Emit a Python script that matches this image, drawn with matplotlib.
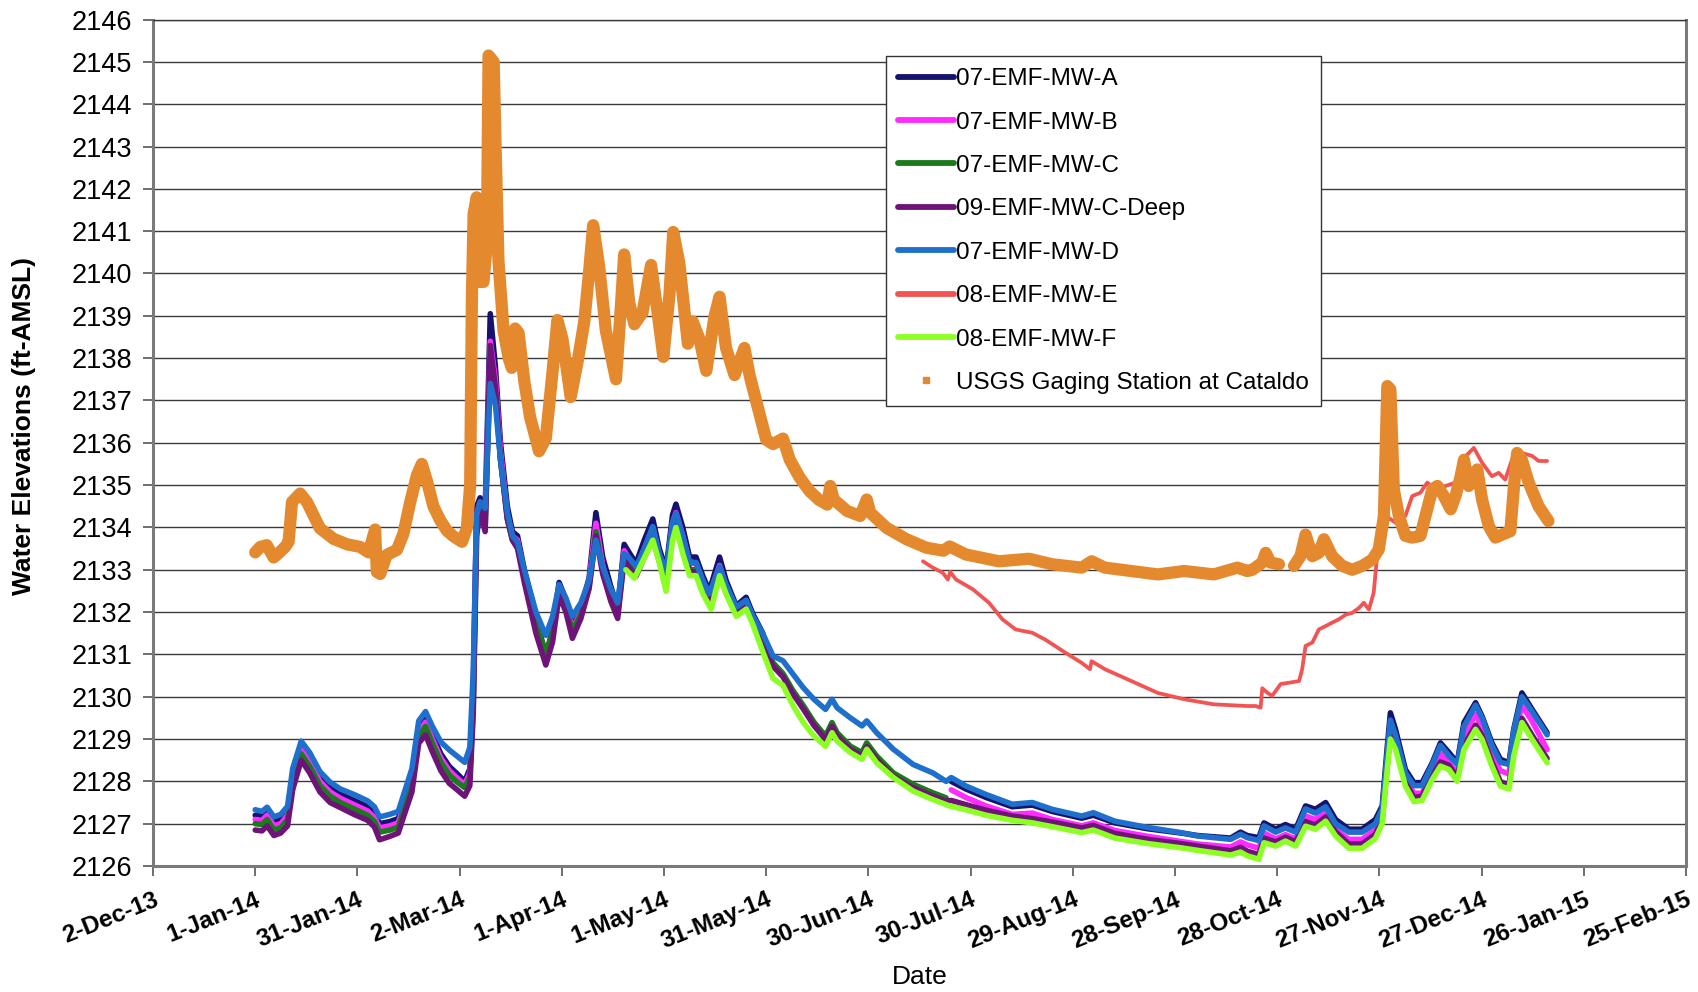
import matplotlib
matplotlib.use("Agg")
import matplotlib.pyplot as plt
import matplotlib.dates as mdates
import numpy as np
from datetime import datetime
from matplotlib.lines import Line2D

plt.rcParams['font.family'] = ['Liberation Sans', 'DejaVu Sans']

# ---------------- DATA (days counted from 1-Jan-14) ----------------
XTICK_LABELS = ["2-Dec-13", "1-Jan-14", "31-Jan-14", "2-Mar-14", "1-Apr-14", "1-May-14",
                "31-May-14", "30-Jun-14", "30-Jul-14", "29-Aug-14", "28-Sep-14", "28-Oct-14",
                "27-Nov-14", "27-Dec-14", "26-Jan-15", "25-Feb-15"]
Y_TICKS = list(range(2126, 2147))

SERIES_NAMES = ["07-EMF-MW-A", "07-EMF-MW-B", "07-EMF-MW-C", "09-EMF-MW-C-Deep",
                "07-EMF-MW-D", "08-EMF-MW-E", "08-EMF-MW-F", "USGS Gaging Station at Cataldo"]

EARLY_DAYS = [0, 2, 3.5, 5.5, 7.5, 9.5, 11, 13.5, 16, 19,
              22, 25, 29, 33, 35, 36.5, 39.5, 42, 43.5, 46,
              48, 50, 52, 54.5, 57, 59, 61.5, 63, 64, 65,
              66, 67.5, 69, 70.5, 72, 74, 75.5, 77, 79, 82.4,
              85.3, 87.3, 89.2, 91.2, 93.1, 95.6, 98, 100, 102, 104.4,
              106.4, 108.3, 109.8, 111.8, 114.2, 116.7, 118.6, 120.6, 122.5, 123.5,
              125.5, 127.5, 129.4, 131.4, 133.3, 136.3, 138.2, 141.2, 144.1, 146.1,
              149]
MID_DAYS = [152, 154.9, 157.8, 160.8, 164, 167.4, 169.3, 170.8, 174.7, 178.1,
            179.5, 182.4, 187.3, 193.1, 198.9, 202.8]
LATE_DAYS = [204.3, 208.6, 214.5, 222.2, 228.1, 233.9, 242.6, 246, 252.3, 262,
             271.7, 276.6, 286.3, 289.2, 291.2, 294.6, 296.1, 299.5, 302.4, 305.4,
             308.3, 311.2, 314.2, 317.1, 321, 324.9, 328.8, 330.8, 332.3, 333.2,
             334.7, 337.6, 340.1, 342.5, 345.5, 347.9, 350.4, 352.8, 354.8, 358.2,
             360.1, 363, 365.5, 368, 369.4, 371.8, 374.8, 379.2]

A_EARLY = [2127.20, 2127.18, 2127.30, 2127.05, 2127.10, 2127.30, 2128.15, 2128.85, 2128.55, 2128.10,
           2127.85, 2127.70, 2127.55, 2127.40, 2127.25, 2127.00, 2127.05, 2127.12, 2127.50, 2128.10,
           2129.25, 2129.50, 2129.10, 2128.65, 2128.35, 2128.20, 2128.00, 2128.30, 2130.20, 2134.50,
           2134.70, 2134.40, 2139.05, 2137.80, 2136.00, 2134.50, 2133.90, 2133.80, 2133.00, 2131.90,
           2130.95, 2131.60, 2132.70, 2132.30, 2131.70, 2132.10, 2132.80, 2134.35, 2133.30, 2132.60,
           2132.10, 2133.60, 2133.40, 2133.15, 2133.70, 2134.20, 2133.50, 2133.00, 2134.30, 2134.55,
           2134.00, 2133.30, 2133.30, 2132.85, 2132.50, 2133.30, 2132.75, 2132.15, 2132.35, 2131.95,
           2131.50]
B_EARLY = [2127.10, 2127.08, 2127.20, 2126.95, 2127.00, 2127.20, 2128.05, 2128.75, 2128.45, 2128.00,
           2127.75, 2127.60, 2127.45, 2127.30, 2127.15, 2126.90, 2126.95, 2127.02, 2127.40, 2128.00,
           2129.15, 2129.40, 2129.00, 2128.55, 2128.25, 2128.10, 2127.92, 2128.20, 2130.00, 2134.30,
           2134.60, 2134.20, 2138.40, 2137.50, 2135.80, 2134.30, 2133.80, 2133.70, 2132.90, 2131.80,
           2130.85, 2131.50, 2132.55, 2132.20, 2131.60, 2132.00, 2132.70, 2134.10, 2133.10, 2132.45,
           2132.00, 2133.45, 2133.25, 2133.00, 2133.50, 2134.00, 2133.35, 2132.85, 2134.10, 2134.35,
           2133.80, 2133.15, 2133.15, 2132.70, 2132.40, 2133.10, 2132.60, 2132.05, 2132.25, 2131.85,
           2131.40]
C_EARLY = [2127.00, 2126.98, 2127.10, 2126.85, 2126.90, 2127.10, 2127.95, 2128.65, 2128.35, 2127.90,
           2127.65, 2127.50, 2127.35, 2127.20, 2127.05, 2126.80, 2126.85, 2126.92, 2127.30, 2127.90,
           2129.05, 2129.30, 2128.90, 2128.45, 2128.15, 2128.00, 2127.85, 2128.10, 2129.80, 2134.00,
           2134.50, 2134.00, 2138.00, 2137.20, 2135.60, 2134.20, 2133.70, 2133.55, 2132.80, 2131.70,
           2131.06, 2131.50, 2132.45, 2132.10, 2131.55, 2131.95, 2132.60, 2133.90, 2133.00, 2132.35,
           2131.95, 2133.30, 2133.10, 2132.90, 2133.35, 2133.80, 2133.25, 2132.70, 2133.90, 2134.15,
           2133.60, 2133.00, 2133.00, 2132.60, 2132.30, 2133.00, 2132.50, 2132.00, 2132.20, 2131.80,
           2131.30]
CD_EARLY = [2126.85, 2126.83, 2126.95, 2126.72, 2126.78, 2126.95, 2127.80, 2128.50, 2128.20, 2127.75,
            2127.50, 2127.38, 2127.22, 2127.08, 2126.92, 2126.62, 2126.70, 2126.78, 2127.15, 2127.75,
            2128.90, 2129.10, 2128.70, 2128.25, 2127.95, 2127.82, 2127.65, 2127.90, 2129.60, 2133.80,
            2134.40, 2133.90, 2138.30, 2137.30, 2135.60, 2134.20, 2133.70, 2133.50, 2132.70, 2131.50,
            2130.75, 2131.30, 2132.40, 2132.00, 2131.38, 2131.85, 2132.55, 2133.80, 2132.90, 2132.25,
            2131.85, 2133.25, 2133.05, 2132.85, 2133.30, 2133.75, 2133.20, 2132.65, 2133.85, 2134.10,
            2133.55, 2132.95, 2132.95, 2132.55, 2132.25, 2132.95, 2132.45, 2131.95, 2132.15, 2131.75,
            2131.25]
D_EARLY = [2127.33, 2127.29, 2127.39, 2127.16, 2127.22, 2127.41, 2128.30, 2128.95, 2128.68, 2128.23,
           2127.98, 2127.82, 2127.69, 2127.54, 2127.40, 2127.16, 2127.22, 2127.29, 2127.67, 2128.30,
           2129.43, 2129.65, 2129.30, 2128.93, 2128.74, 2128.61, 2128.45, 2128.80, 2130.60, 2134.30,
           2134.60, 2134.45, 2137.40, 2136.90, 2135.60, 2134.36, 2133.80, 2133.65, 2133.00, 2132.00,
           2131.45, 2131.90, 2132.65, 2132.33, 2131.90, 2132.22, 2132.75, 2133.70, 2133.07, 2132.54,
           2132.22, 2133.38, 2133.28, 2133.07, 2133.49, 2134.02, 2133.38, 2132.96, 2134.12, 2134.33,
           2133.80, 2133.17, 2133.17, 2132.75, 2132.43, 2133.07, 2132.65, 2132.12, 2132.28, 2131.90,
           2131.49]

C_MID = [2130.80, 2130.55, 2130.15, 2129.80, 2129.40, 2129.07, 2129.39, 2129.15, 2128.83, 2128.68,
         2128.91, 2128.60, 2128.20, 2127.93, 2127.73, 2127.61]
CD_MID = [2130.72, 2130.47, 2130.07, 2129.72, 2129.32, 2128.99, 2129.30, 2129.07, 2128.75, 2128.60,
          2128.82, 2128.52, 2128.12, 2127.85, 2127.65, 2127.53]
D_MID = [2130.96, 2130.85, 2130.54, 2130.22, 2129.94, 2129.70, 2129.94, 2129.74, 2129.50, 2129.31,
         2129.43, 2129.15, 2128.76, 2128.40, 2128.20, 2128.00]

A_LATE = [2128.00, 2127.82, 2127.62, 2127.40, 2127.44, 2127.29, 2127.13, 2127.20, 2127.02, 2126.88,
          2126.78, 2126.72, 2126.66, 2126.80, 2126.72, 2126.67, 2127.02, 2126.87, 2126.98, 2126.87,
          2127.42, 2127.34, 2127.50, 2127.10, 2126.87, 2126.87, 2127.10, 2127.42, 2128.83, 2129.62,
          2129.23, 2128.28, 2127.97, 2127.97, 2128.44, 2128.91, 2128.68, 2128.44, 2129.39, 2129.86,
          2129.54, 2128.91, 2128.52, 2128.44, 2129.23, 2130.09, 2129.70, 2129.15]
B_LATE = [2127.80, 2127.62, 2127.42, 2127.22, 2127.25, 2127.10, 2126.95, 2127.02, 2126.84, 2126.70,
          2126.58, 2126.52, 2126.45, 2126.57, 2126.50, 2126.42, 2126.78, 2126.64, 2126.74, 2126.64,
          2127.18, 2127.10, 2127.26, 2126.86, 2126.63, 2126.63, 2126.86, 2127.18, 2128.55, 2129.35,
          2128.98, 2128.05, 2127.72, 2127.72, 2128.20, 2128.65, 2128.42, 2128.18, 2129.10, 2129.58,
          2129.28, 2128.65, 2128.25, 2128.18, 2128.98, 2129.80, 2129.42, 2128.75]
CD_LATE = [2127.55, 2127.45, 2127.32, 2127.18, 2127.12, 2127.04, 2126.90, 2126.96, 2126.77, 2126.63,
           2126.53, 2126.47, 2126.36, 2126.44, 2126.35, 2126.27, 2126.66, 2126.57, 2126.68, 2126.57,
           2127.05, 2126.97, 2127.16, 2126.81, 2126.52, 2126.52, 2126.75, 2127.10, 2128.40, 2129.10,
           2128.86, 2127.99, 2127.62, 2127.65, 2128.15, 2128.46, 2128.38, 2128.10, 2128.85, 2129.33,
           2129.09, 2128.46, 2127.99, 2127.92, 2128.70, 2129.49, 2129.09, 2128.54]
D_LATE = [2128.09, 2127.89, 2127.69, 2127.46, 2127.50, 2127.34, 2127.18, 2127.26, 2127.06, 2126.91,
          2126.79, 2126.71, 2126.63, 2126.75, 2126.67, 2126.60, 2126.95, 2126.80, 2126.90, 2126.80,
          2127.35, 2127.25, 2127.40, 2127.00, 2126.80, 2126.80, 2127.00, 2127.35, 2128.70, 2129.45,
          2129.10, 2128.20, 2127.90, 2127.90, 2128.40, 2128.85, 2128.60, 2128.40, 2129.30, 2129.80,
          2129.50, 2128.85, 2128.45, 2128.40, 2129.20, 2130.00, 2129.65, 2129.10]

F_DAYS = [108.8, 111.3, 114.2, 116.7, 118.6, 120.6, 122.5, 123.5, 125.5, 127.5,
          129.4, 131.4, 133.8, 136.3, 138.2, 141.2, 144.1, 146.1, 149, 152,
          154.9, 157.8, 160.8, 164, 167.4, 169.3, 170.8, 174.7, 178.1, 179.5,
          182.4, 187.3, 193.1, 198.9, 203.8, 208.6, 214.5, 222.2, 228.1, 233.9,
          242.6, 246, 252.3, 262, 271.7, 276.6, 286.3, 289.2, 291.2, 294.6,
          296.1, 299.5, 302.4, 305.4, 308.3, 311.2, 314.2, 317.1, 321, 324.9,
          328.8, 330.8, 332.3, 333.2, 334.7, 337.6, 340.1, 342.5, 345.5, 347.9,
          350.4, 352.8, 354.8, 358.2, 360.1, 363, 365.5, 368, 369.4, 371.8,
          374.8, 379.2]
F_VALS = [2133.00, 2132.80, 2133.28, 2133.70, 2133.17, 2132.49, 2133.70, 2134.00, 2133.38, 2132.86,
          2132.86, 2132.43, 2132.07, 2132.86, 2132.43, 2131.90, 2132.07, 2131.70, 2131.06, 2130.43,
          2130.27, 2129.80, 2129.40, 2129.07, 2128.83, 2129.15, 2128.95, 2128.68, 2128.52, 2128.76,
          2128.44, 2128.09, 2127.77, 2127.57, 2127.42, 2127.33, 2127.20, 2127.08, 2127.02, 2126.93,
          2126.79, 2126.85, 2126.66, 2126.53, 2126.43, 2126.37, 2126.26, 2126.33, 2126.24, 2126.16,
          2126.55, 2126.47, 2126.59, 2126.47, 2126.94, 2126.87, 2127.06, 2126.71, 2126.42, 2126.42,
          2126.65, 2127.00, 2128.30, 2129.00, 2128.76, 2127.89, 2127.52, 2127.55, 2128.05, 2128.36,
          2128.28, 2128.00, 2128.75, 2129.23, 2128.99, 2128.36, 2127.89, 2127.82, 2128.60, 2129.39,
          2128.99, 2128.44]

E_DAYS = [196, 198.9, 201.8, 203.3, 204, 205.7, 210.6, 215.4, 219.3, 223.2,
          228.1, 231.9, 237.8, 242.6, 245, 245.5, 249.4, 257.2, 264.9, 272.7,
          281.4, 291.2, 293.7, 295.1, 295.6, 297, 298.5, 301, 303.4, 306.4,
          307.3, 308.3, 310.3, 312.2, 314.2, 316.1, 318.1, 320.1, 322, 324,
          325.4, 326.9, 328.3, 329.3, 330.8, 332.7, 334.7, 337.6, 339.6, 342,
          344, 346.4, 349.4, 352.3, 354.3, 357.7, 360.1, 363, 365, 366.9,
          369.9, 371.8, 374.8, 376.7, 379.2]
E_VALS = [2133.20, 2133.05, 2132.93, 2132.77, 2132.95, 2132.77, 2132.54, 2132.22, 2131.83, 2131.59,
          2131.51, 2131.35, 2131.04, 2130.80, 2130.65, 2130.84, 2130.65, 2130.37, 2130.09, 2129.94,
          2129.82, 2129.78, 2129.78, 2129.74, 2130.20, 2130.10, 2130.02, 2130.30, 2130.33, 2130.37,
          2130.65, 2131.20, 2131.28, 2131.59, 2131.67, 2131.75, 2131.83, 2131.94, 2131.98, 2132.10,
          2132.22, 2132.06, 2132.46, 2133.32, 2133.80, 2134.23, 2134.11, 2134.27, 2134.74, 2134.82,
          2135.06, 2134.90, 2134.98, 2135.06, 2135.60, 2135.88, 2135.53, 2135.21, 2135.29, 2135.13,
          2135.84, 2135.76, 2135.69, 2135.57, 2135.57]

USGS_DAYS = [0, 1.5, 3.4, 5.4, 7, 8.8, 9.8, 10.8, 13.2, 15.2,
             19, 23, 27, 30.8, 33.3, 35.2, 35.7, 36.7, 38.6, 41.6,
             43.5, 45.5, 47.5, 48.9, 50.4, 52.3, 54.3, 56.3, 58.2, 60.7,
             62.1, 63.1, 63.6, 64.1, 65, 66, 67, 68, 68.5, 70,
             70.5, 71.4, 72.9, 74.4, 75.3, 76.3, 77.3, 79, 80.7, 82.7,
             83.3, 85.3, 87.3, 88.7, 90.2, 92.6, 94.6, 96.6, 98, 99.2,
             101, 102.9, 105.9, 107.4, 108.3, 109.8, 111.3, 113.7, 116.2, 118.1,
             119.8, 121.6, 122.7, 124.5, 127, 128.4, 130.4, 132.4, 134.8, 136.3,
             138.2, 140.7, 143.6, 145.1, 147.1, 150, 152, 154.9, 156.9, 159.8,
             162.7, 165.5, 167.9, 168.8, 169.8, 173.7, 177.6, 179.5, 180.5, 185.3,
             191.2, 197, 202, 203.8, 208.6, 218.3, 227.1, 233.9, 242.6, 245.5,
             249.4, 257.2, 264.9, 272.7, 281.4, 288.3, 291.2, 292.7, 295.6, 296.6,
             298, 300.5, 302.7, 304.9, 306.8, 308.3, 310.3, 312.2, 313.7, 316.1,
             319.1, 322, 324.9, 327.9, 329.8, 331.3, 332.3, 333.2, 334.2, 335.7,
             337.6, 339.6, 342, 343.5, 345.5, 347, 348.9, 350.9, 352.3, 353.8,
             354.8, 356.2, 357.2, 358.7, 360.1, 362.1, 364, 366, 368.4, 369.4,
             370.4, 371.8, 373.8, 376.7, 379.6]
USGS_VALS = [2133.41, 2133.54, 2133.58, 2133.29, 2133.40, 2133.54, 2133.66, 2134.60, 2134.80, 2134.60,
             2133.98, 2133.73, 2133.60, 2133.54, 2133.41, 2133.95, 2132.95, 2132.90, 2133.35, 2133.47,
             2133.85, 2134.60, 2135.24, 2135.50, 2135.10, 2134.50, 2134.17, 2133.92, 2133.79, 2133.66,
             2133.98, 2135.00, 2139.40, 2141.40, 2141.80, 2139.80, 2139.80, 2140.70, 2145.15, 2145.00,
             2143.20, 2140.30, 2138.65, 2138.00, 2137.77, 2138.70, 2138.60, 2137.45, 2136.60, 2136.00,
             2135.80, 2136.10, 2137.70, 2138.90, 2138.45, 2137.08, 2137.90, 2138.87, 2140.03, 2141.14,
             2140.14, 2138.66, 2137.50, 2139.30, 2140.45, 2139.30, 2138.80, 2139.08, 2140.20, 2139.08,
             2138.03, 2139.50, 2140.98, 2140.24, 2138.34, 2138.87, 2138.45, 2137.70, 2138.98, 2139.45,
             2138.24, 2137.60, 2138.24, 2137.60, 2136.97, 2136.07, 2135.97, 2136.10, 2135.60, 2135.18,
             2134.86, 2134.65, 2134.54, 2134.98, 2134.66, 2134.39, 2134.27, 2134.66, 2134.35, 2133.99,
             2133.72, 2133.52, 2133.45, 2133.55, 2133.36, 2133.20, 2133.26, 2133.13, 2133.05, 2133.20,
             2133.05, 2132.97, 2132.89, 2132.97, 2132.89, 2133.05, 2132.97, 2133.00, 2133.17, 2133.40,
             2133.17, 2133.13, np.nan, 2133.09, 2133.32, 2133.83, 2133.32, 2133.40, 2133.72, 2133.32,
             2133.09, 2133.00, 2133.09, 2133.24, 2133.48, 2134.27, 2137.34, 2137.26, 2134.90, 2134.27,
             2133.80, 2133.76, 2133.80, 2134.27, 2134.90, 2134.98, 2134.74, 2134.43, 2134.74, 2135.20,
             2135.60, 2134.98, 2135.20, 2135.37, 2134.66, 2134.03, 2133.76, 2133.83, 2133.91, 2134.90,
             2135.76, 2135.60, 2135.06, 2134.50, 2134.15]

COLORS = ["#15136e", "#ff2bff", "#1b7a1b", "#6e1478", "#1f6fcc", "#f25353", "#8cff24", "#e5892f"]

# ---------------- PLOT ----------------
BASE = mdates.date2num(datetime(2014, 1, 1))
NAN = [np.nan]


def xs(*parts):
    return BASE + np.concatenate([np.asarray(p, dtype=float) for p in parts])


def ys(*parts):
    return np.concatenate([np.asarray(p, dtype=float) for p in parts])


fig = plt.figure(figsize=(16.98, 9.92), dpi=100)
ax = fig.add_axes([0.0901, 0.127, 0.9029, 0.8533])

well_lw = 4.0
series = [
    (xs(EARLY_DAYS, NAN, LATE_DAYS), ys(A_EARLY, NAN, A_LATE), COLORS[0], well_lw),
    (xs(EARLY_DAYS, NAN, LATE_DAYS), ys(B_EARLY, NAN, B_LATE), COLORS[1], well_lw),
    (xs(EARLY_DAYS, MID_DAYS), ys(C_EARLY, C_MID), COLORS[2], well_lw),
    (xs(EARLY_DAYS, MID_DAYS, LATE_DAYS), ys(CD_EARLY, CD_MID, CD_LATE), COLORS[3], well_lw),
    (xs(EARLY_DAYS, MID_DAYS, LATE_DAYS), ys(D_EARLY, D_MID, D_LATE), COLORS[4], well_lw),
    (xs(E_DAYS), ys(E_VALS), COLORS[5], 2.7),
    (xs(F_DAYS), ys(F_VALS), COLORS[6], well_lw),
]
for x, y, c, lw in series:
    ax.plot(x, y, color=c, lw=lw, solid_joinstyle='round', solid_capstyle='round', zorder=3)

ax.plot(xs(USGS_DAYS), ys(USGS_VALS), color=COLORS[7], lw=8.8,
        solid_joinstyle='round', solid_capstyle='round', zorder=4)

# axes
xticks = [mdates.date2num(datetime.strptime(s, "%d-%b-%y")) for s in XTICK_LABELS]
ax.set_xlim(xticks[0], xticks[-1])
ax.set_ylim(Y_TICKS[0], Y_TICKS[-1])
ax.set_xticks(xticks)
ax.set_xticklabels(XTICK_LABELS, rotation=22, ha='right', va='top', rotation_mode='anchor',
                   fontweight='bold')
ax.set_yticks(Y_TICKS)
ax.tick_params(axis='y', labelsize=19.5, length=7, width=1.2, color='#555555', pad=8)
ax.tick_params(axis='x', labelsize=17.5, length=7, width=1.2, color='#555555', pad=9)

ax.yaxis.grid(True, color='#3a3a3a', lw=1.0)
ax.set_axisbelow(True)
for side in ['left', 'bottom', 'right']:
    ax.spines[side].set_color('#7a7a7a')
    ax.spines[side].set_linewidth(2.2)
ax.spines['top'].set_color('#3a3a3a')
ax.spines['top'].set_linewidth(1.0)

ax.set_ylabel("Water Elevations (ft-AMSL)", fontsize=19, fontweight='bold')
ax.yaxis.set_label_coords(-0.084, 0.52)
ax.yaxis.label.set_va('center')
ax.set_xlabel("Date", fontsize=19)
ax.xaxis.set_label_coords(0.5, -0.131)
ax.xaxis.label.set_va('center')

handles = [Line2D([], [], color=COLORS[i], lw=4.2, solid_capstyle='round') for i in range(7)]
handles.append(Line2D([], [], color=COLORS[7], marker='s', ms=5, ls=''))
leg = ax.legend(handles, SERIES_NAMES, loc='upper left', bbox_to_anchor=(0.478, 0.957),
                borderaxespad=0, fontsize=17.5, frameon=True, fancybox=False, framealpha=1,
                edgecolor='#333333', handlelength=2.3, handletextpad=0.08,
                labelspacing=0.88, borderpad=0.5)
leg.get_frame().set_linewidth(1.0)
leg.set_zorder(10)

fig.savefig("out.png", dpi=100, facecolor='white')
